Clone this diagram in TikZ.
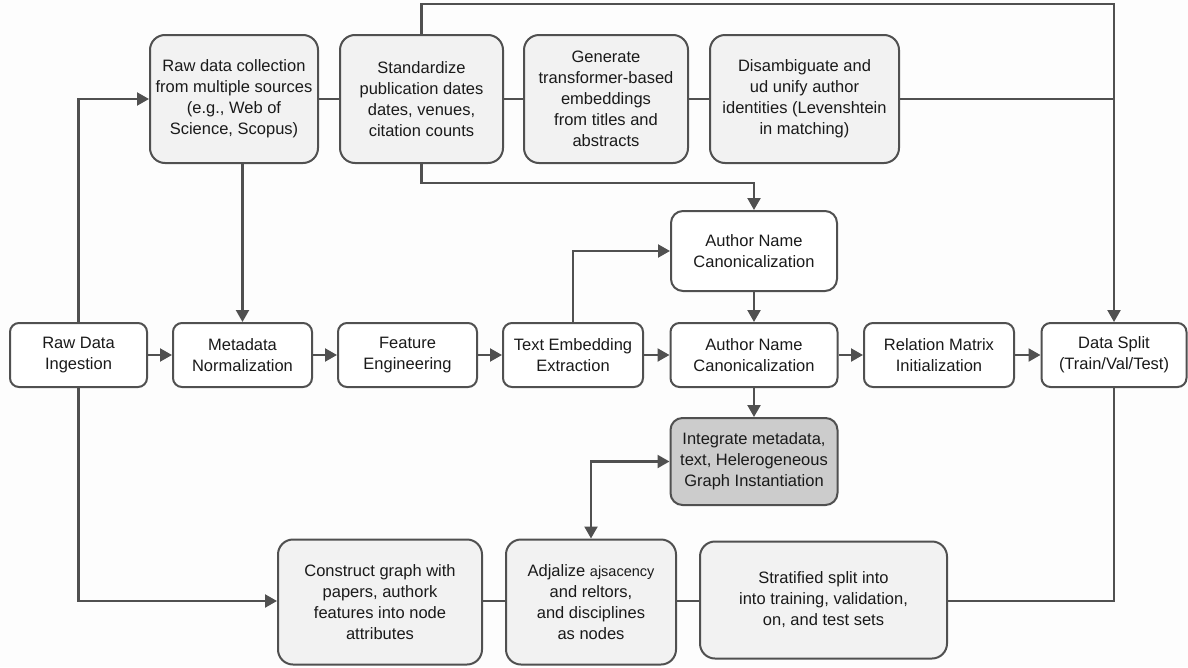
\documentclass[tikz,border=0pt]{standalone}
\usepackage{fontspec}
\setmainfont{Liberation Sans}
\usetikzlibrary{arrows.meta}
\definecolor{edgec}{HTML}{505050}
\definecolor{txtc}{HTML}{1A1A1A}
\definecolor{lightf}{HTML}{F2F2F2}
\definecolor{grayf}{HTML}{CCCCCC}
\definecolor{bgc}{HTML}{FDFDFD}
\begin{document}
\begin{tikzpicture}[x=1pt,y=-1pt,
  font=\fontsize{16.5}{21}\selectfont,
  base/.style={draw=edgec, line width=2pt, text=txtc, align=center, inner sep=0pt},
  topbox/.style={base, rounded corners=15pt, fill=lightf},
  midbox/.style={base, rounded corners=9pt, fill=white},
  graybox/.style={base, rounded corners=12pt, fill=grayf},
  conn/.style={draw=edgec, line width=2.2pt},
  arr/.style={conn, -{Triangle[length=12pt,width=13pt]}},
  darr/.style={conn, {Triangle[length=12pt,width=13pt]}-{Triangle[length=12pt,width=13pt]}}
]
\useasboundingbox[fill=bgc] (0,0) rectangle (1188,667);

% top row
\node[topbox, minimum width=168pt, minimum height=128pt] (B1) at (234,99) {Raw data collection\\from multiple sources\\(e.g., Web of\\Science, Scopus)};
\node[topbox, minimum width=163pt, minimum height=128pt] (B2) at (421.5,99) {Standardize\\publication dates\\dates, venues,\\citation counts};
\node[topbox, minimum width=164pt, minimum height=128pt] (B3) at (606,99) {Generate\\transformer-based\\embeddings\\from titles and\\abstracts};
\node[topbox, minimum width=189pt, minimum height=128pt] (B4) at (804.5,99) {Disambiguate and\\ud unify author\\identities (Levenshtein\\in matching)};

% upper author box
\node[midbox, rounded corners=12pt, minimum width=166pt, minimum height=80pt] (ANC1) at (754,251) {Author Name\\Canonicalization};

% middle row
\node[midbox, minimum width=137pt, minimum height=64pt] (RDI) at (78.5,355) {Raw Data\\Ingestion};
\node[midbox, minimum width=139pt, minimum height=64pt] (MN) at (242.5,355) {Metadata\\Normalization};
\node[midbox, minimum width=139pt, minimum height=64pt] (FE) at (407.5,355) {Feature\\Engineering};
\node[midbox, minimum width=140pt, minimum height=64pt] (TEE) at (573,355) {Text Embedding\\Extraction};
\node[midbox, minimum width=167pt, minimum height=64pt] (ANC) at (754,355) {Author Name\\Canonicalization};
\node[midbox, minimum width=150pt, minimum height=64pt] (RMI) at (939,355) {Relation Matrix\\Initialization};
\node[midbox, minimum width=145pt, minimum height=64pt] (DS) at (1114,355) {Data Split\\(Train/Val/Test)};

% integrate
\node[graybox, minimum width=167pt, minimum height=87pt] (INT) at (754,461.5) {Integrate metadata,\\text, Helerogeneous\\Graph Instantiation};

% bottom row
\node[topbox, minimum width=204pt, minimum height=125pt] (CON) at (380,602) {Construct graph with\\papers, authork\\features into node\\attributes};
\node[topbox, minimum width=170pt, minimum height=125pt] (ADJ) at (591,602) {Adjalize {\fontsize{14.5}{21}\selectfont ajsacency}\\and reltors,\\and disciplines\\as nodes};
\node[topbox, minimum width=247pt, minimum height=117pt] (STR) at (823.5,600) {Stratified split into\\into training, validation,\\on, and test sets};

\coordinate (topY) at (0,4);
\coordinate (midY) at (0,183);
\coordinate (botY) at (0,601);

% top row links
\draw[conn] (B1.east) -- (B2.west);
\draw[conn] (B2.east) -- (B3.west);
\draw[conn] (B3.east) -- (B4.west);
\draw[conn] (B4.east) -- (B4.east -| DS.north);
\draw[arr] (B2.north) -- (B2.north |- topY) -| (DS.north);
\draw[arr] (B2.south) -- (B2.south |- midY) -| (ANC1.north);
\draw[arr] (B1.south -| MN.north) -- (MN.north);

% left loops
\draw[arr] (RDI.north) |- (B1.west);
\draw[arr] (RDI.south) |- (CON.west |- botY);

% middle row
\draw[arr] (RDI.east) -- (MN.west);
\draw[arr] (MN.east) -- (FE.west);
\draw[arr] (FE.east) -- (TEE.west);
\draw[arr] (TEE.east) -- (ANC.west);
\draw[arr] (ANC.east) -- (RMI.west);
\draw[arr] (RMI.east) -- (DS.west);
\draw[arr] (TEE.north) |- (ANC1.west);
\draw[arr] (ANC1.south) -- (ANC.north);
\draw[arr] (ANC.south) -- (INT.north);

% integrate / bottom
\draw[darr] (INT.west) -| (ADJ.north);
\draw[conn] (CON.east |- botY) -- (ADJ.west |- botY);
\draw[conn] (ADJ.east |- botY) -- (STR.west |- botY);
\draw[conn] (STR.east |- botY) -| (DS.south);
\end{tikzpicture}
\end{document}
